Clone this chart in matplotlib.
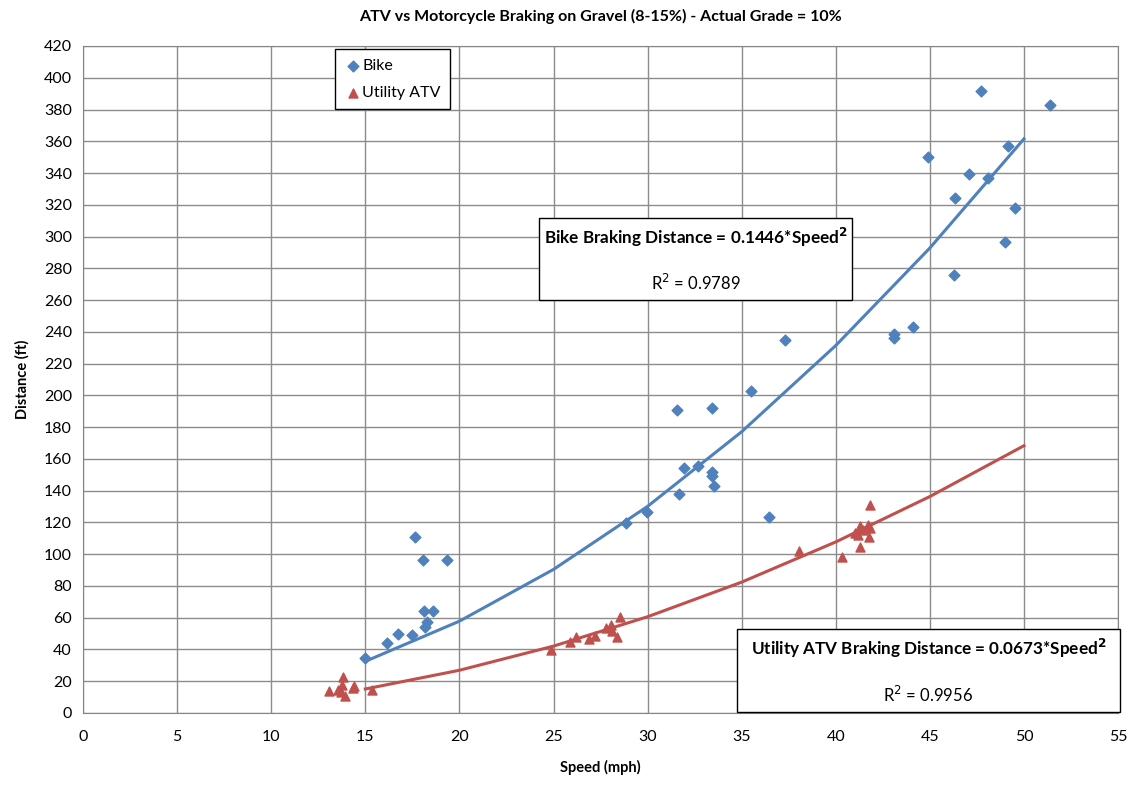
import matplotlib
matplotlib.use('Agg')
import matplotlib.pyplot as plt
from matplotlib.patches import Rectangle

plt.rcParams['font.family'] = ['Lato', 'DejaVu Sans']

# --- data ---
bike_speed = [14.98, 16.15, 16.74, 17.48, 18.17, 18.27, 18.12, 18.6, 17.64, 18.06, 19.34,
              28.85, 29.95, 31.67, 31.93, 32.68, 33.4, 33.4, 33.53, 31.56, 33.44, 35.5, 36.43, 37.3,
              43.09, 43.09, 44.1, 44.9, 46.3, 46.33, 47.1, 47.7, 48.1, 49.0, 49.17, 49.52, 51.38]
bike_dist = [34.6, 44.0, 49.7, 49.1, 54.2, 57.3, 64.2, 64.2, 110.8, 96.3, 96.3,
             119.8, 126.8, 137.7, 154.1, 155.5, 152.0, 149.2, 143.0, 190.8, 192.3, 203.0, 123.2, 234.9,
             238.7, 236.0, 242.9, 350.3, 275.8, 324.1, 339.2, 391.9, 336.7, 296.6, 357.0, 317.8, 382.9]

atv_speed = [13.09, 13.57, 13.8, 13.74, 13.92, 13.69, 14.36, 14.4, 15.34,
             24.87, 25.9, 26.2, 26.9, 27.2, 27.8, 28.05, 28.1, 28.36, 28.53,
             38.05, 40.35, 41.3, 41.82, 41.0, 41.29, 41.2, 41.73, 41.82, 41.78, 41.46]
atv_dist = [14.1, 14.5, 22.9, 17.6, 10.7, 13.4, 15.5, 17.0, 14.5,
            39.7, 44.7, 47.9, 46.4, 48.5, 53.3, 55.4, 51.8, 47.7, 60.3,
            102.0, 98.4, 104.7, 131.0, 113.2, 117.8, 112.1, 118.4, 116.3, 110.6, 115.2]

fit_speed = [15, 20, 25, 30, 35, 40, 45, 50]
bike_fit = [32.5, 57.8, 90.4, 130.1, 177.1, 231.4, 292.8, 361.5]
atv_fit = [15.1, 26.9, 42.1, 60.6, 82.4, 107.7, 136.3, 168.3]

BLUE = '#4F81BD'
RED = '#C0504D'

fig = plt.figure(figsize=(11.33, 7.86), dpi=100)
ax = fig.add_axes([0.0733, 0.0929, 0.9135, 0.8486])

ax.plot(fit_speed, bike_fit, color=BLUE, lw=2.2, zorder=2)
ax.plot(fit_speed, atv_fit, color=RED, lw=2.2, zorder=2)
ax.scatter(bike_speed, bike_dist, marker='D', s=30, color=BLUE, label='Bike', zorder=3)
ax.scatter(atv_speed, atv_dist, marker='^', s=42, color=RED, label='Utility ATV', zorder=3)

ax.set_xlim(0, 55)
ax.set_ylim(0, 420)
ax.set_xticks(range(0, 56, 5))
ax.set_yticks(range(0, 421, 20))
ax.grid(True, color='#8C8C8C', lw=1.0)
ax.set_axisbelow(True)
for s in ax.spines.values():
    s.set_color('#868686')
ax.tick_params(length=0, labelsize=11.5, pad=8)
ax.tick_params(axis='x', pad=12)

ax.set_title('ATV vs Motorcycle Braking on Gravel (8-15%) - Actual Grade = 10%',
             fontsize=11.5, fontweight='bold', pad=18)
ax.set_xlabel('Speed (mph)', fontsize=10.5, fontweight='bold', labelpad=12)
ax.set_ylabel('Distance (ft)', fontsize=10.5, fontweight='bold', labelpad=10)

leg = ax.legend(loc='upper left', bbox_to_anchor=(0.2435, 0.9955), fontsize=11.5,
                frameon=True, fancybox=False, edgecolor='black', framealpha=1,
                borderaxespad=0, handletextpad=0.1, borderpad=0.6, labelspacing=0.8,
                handlelength=1.0)
leg.get_frame().set_linewidth(1.0)

W, H = 1133, 786


def box(x0, y0, x1, y1, line1, line2):
    fig.patches.append(Rectangle((x0 / W, 1 - y1 / H), (x1 - x0) / W, (y1 - y0) / H,
                                 transform=fig.transFigure, facecolor='white',
                                 edgecolor='black', lw=1.0, zorder=5))
    cx = (x0 + x1) / 2 / W
    fig.text(cx, 1 - (y0 + 19) / H, line1, ha='center', va='center',
             fontsize=12.3, fontweight='bold', zorder=6)
    fig.text(cx, 1 - (y1 - 17) / H, line2, ha='center', va='center',
             fontsize=12, zorder=6)


box(539, 218, 852, 300, r'Bike Braking Distance = 0.1446*Speed$^\mathbf{2}$', r'R$^2$ = 0.9789')
box(737, 629, 1120, 712, r'Utility ATV Braking Distance = 0.0673*Speed$^\mathbf{2}$', r'R$^2$ = 0.9956')

fig.savefig('out.png', dpi=100)
